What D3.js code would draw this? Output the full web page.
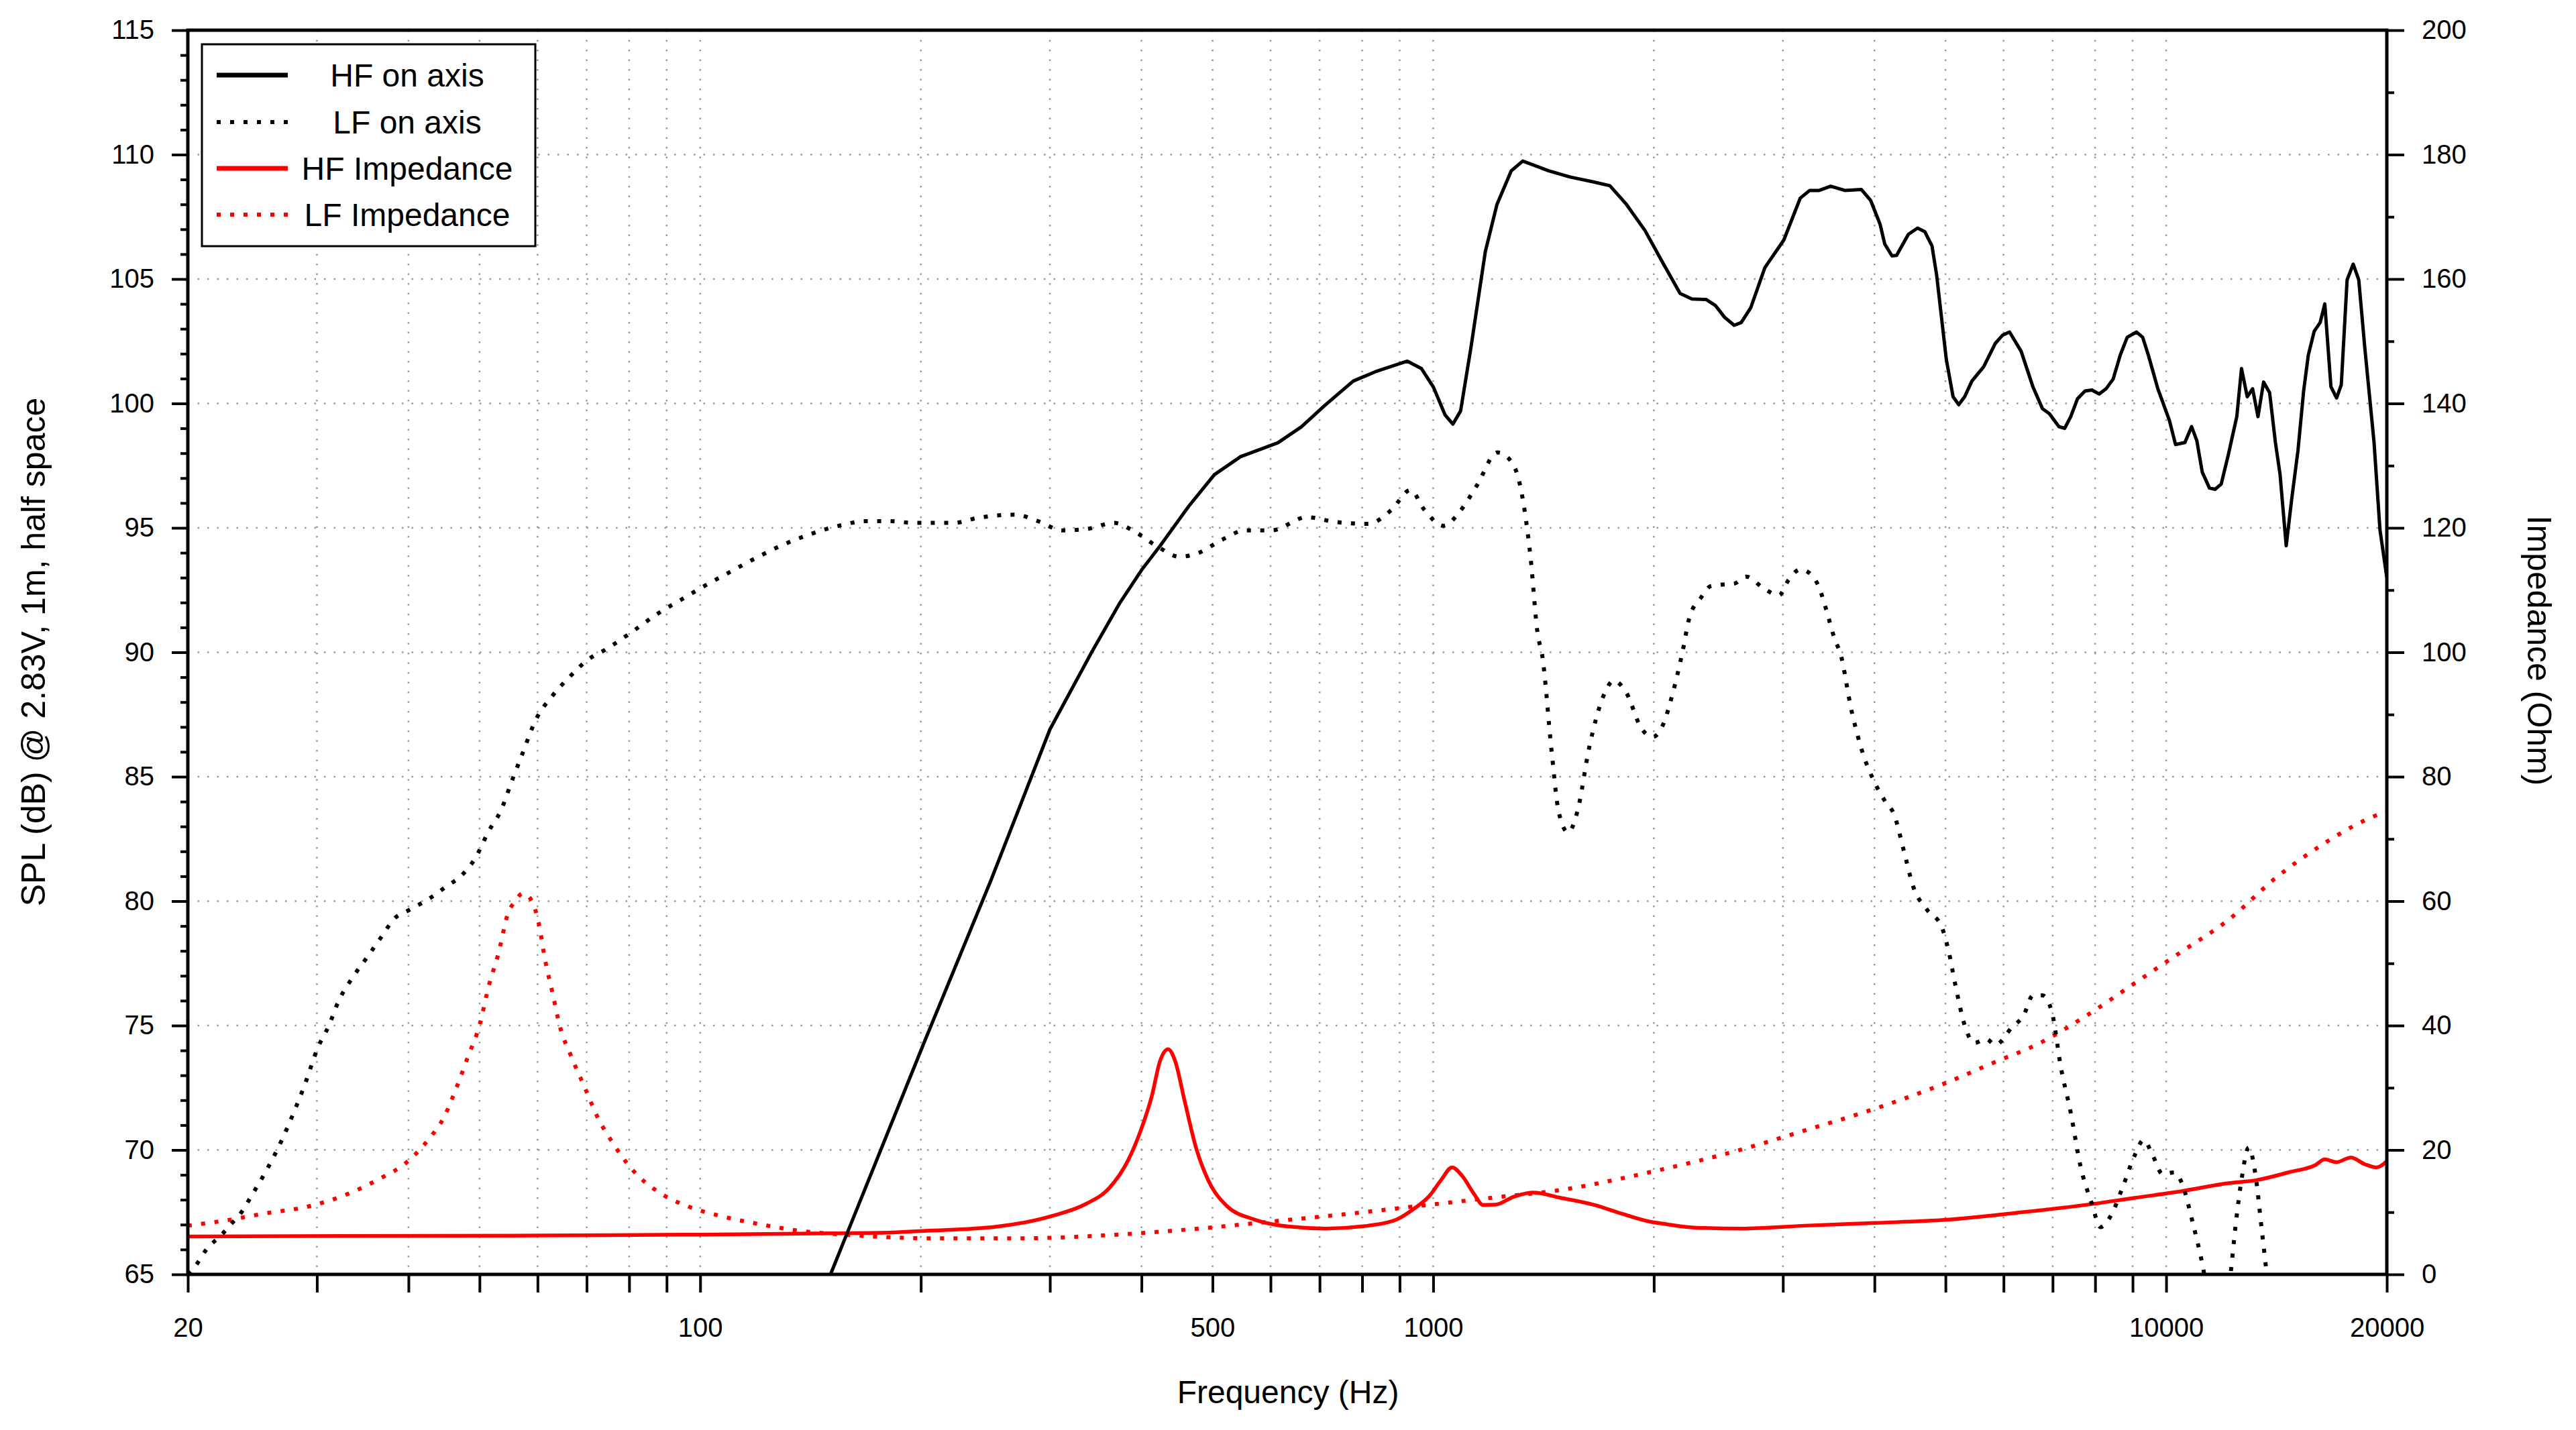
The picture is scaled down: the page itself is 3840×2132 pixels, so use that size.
<!DOCTYPE html>
<html>
<head>
<meta charset="utf-8">
<script src="https://d3js.org/d3.v7.min.js"></script>
<style>
  html, body { margin: 0; padding: 0; background: #fff; }
  svg { display: block; }
  text { font-family: "Liberation Sans", Arial, sans-serif; fill: #000; }
</style>
</head>
<body>
<svg id="chart" width="3840" height="2132"></svg>
<script>
// ---------------- DATA ----------------
const hfOnAxisFreq = [150.6,202.6,249,300,342,374,400,424,464,503,546,614,661,712,778,838,922,964,1001,1038,1064,1090,1126,1178,1222,1278,1325,1437,1537,1655,1742,1835,1945,2062,2172,2254,2356,2426,2498,2574,2632,2713,2835,3009,3168,3264,3362,3486,3644,3838,3952,4071,4132,4226,4288,4450,4580,4686,4792,4864,5012,5120,5212,5310,5432,5636,5848,5980,6114,6340,6580,6780,6932,7138,7270,7410,7570,7748,7920,8100,8280,8466,8656,8848,9112,9288,9456,9742,10104,10298,10606,10832,11010,11200,11456,11660,11888,12158,12484,12670,12900,13120,13344,13580,13840,14094,14300,14580,14840,15128,15400,15628,15920,16220,16460,16780,17080,17334,17654,17996,18312,18660,19214,19574,20000];
const hfOnAxisSpl = [65,74.4,80.8,86.9,90.0,92.0,93.3,94.27,95.87,97.14,97.86,98.42,99.06,99.93,100.9,101.3,101.7,101.4,100.65,99.54,99.17,99.7,102.25,106.1,108.0,109.35,109.74,109.35,109.1,108.9,108.75,108.0,106.95,105.6,104.42,104.2,104.18,103.94,103.46,103.14,103.25,103.86,105.46,106.57,108.25,108.56,108.56,108.73,108.56,108.6,108.16,107.2,106.4,105.93,105.95,106.8,107.05,106.9,106.33,105.13,101.78,100.27,99.95,100.27,100.9,101.47,102.42,102.74,102.87,102.1,100.67,99.79,99.58,99.07,99.0,99.47,100.19,100.5,100.54,100.38,100.59,100.98,101.94,102.66,102.87,102.66,101.94,100.59,99.31,98.35,98.43,99.07,98.51,97.24,96.6,96.55,96.76,97.95,99.47,101.4,100.27,100.59,99.47,100.86,100.43,98.43,97.16,94.28,96.2,98.1,100.5,101.94,102.9,103.25,104.0,100.67,100.22,100.75,104.97,105.6,104.97,102.26,98.43,94.92,93.0];

const lfOnAxisFreq = [20,20.6,21.2,22.24,22.85,23.47,24.59,25.7,26.86,27.89,28.94,30.04,31.16,32.1,33.56,35.08,36.67,38.33,40.06,42.8,45.1,47.14,49.3,51.5,53.45,55.46,57.1,59.7,62.9,66.2,70.2,74.5,80.2,87.7,94.4,101.7,109.4,117.9,128.8,140.8,156,168,181,196,222,239,269,289,312,336,367,389,419,451,479,515,554,602,672,734,815,877,931,973,1033,1087,1146,1224,1280,1318,1358,1388,1409,1451,1483,1528,1573,1633,1708,1763,1837,1920,1994,2062,2120,2188,2237,2320,2391,2481,2574,2672,2835,2964,3053,3168,3287,3362,3435,3538,3590,3724,3864,3981,4132,4256,4386,4516,4721,4935,5044,5158,5310,5474,5680,5848,6160,6390,6580,6780,6980,7190,7410,7630,7920,8130,8402,8717,9045,9316,9600,9886,10260,10490,10880,11200,11750,12240,12430,12670,12960,13245,13490,13720,14300];
const lfOnAxisSpl = [65.0,65.44,66.0,66.59,66.99,67.35,68.3,69.27,70.39,71.5,72.7,74.06,75.01,75.97,76.93,77.72,78.53,79.32,79.64,80.12,80.6,81.0,81.71,82.83,83.63,84.9,85.86,87.3,88.26,88.98,89.69,90.13,90.76,91.57,92.13,92.69,93.2,93.72,94.28,94.73,95.11,95.27,95.27,95.2,95.2,95.4,95.53,95.27,94.9,94.95,95.2,94.9,94.28,93.84,94.0,94.52,94.9,94.9,95.43,95.24,95.16,95.72,96.52,95.72,95.08,95.65,96.68,98.03,97.64,96.52,93.8,90.77,89.85,86.0,83.6,82.76,83.6,86.19,88.26,88.86,88.34,86.98,86.6,87.14,88.3,90.0,91.4,92.2,92.66,92.72,92.76,93.04,92.53,92.29,92.9,93.33,93.09,92.6,91.74,90.45,90.0,87.62,85.86,84.91,84.03,83.47,82.03,80.6,79.64,79.0,78.05,76.62,75.01,74.3,74.46,74.22,74.93,75.41,76.21,76.21,75.57,73.26,71.5,69.43,67.83,66.9,67.35,68.48,69.74,70.4,69.74,69.03,69.1,68.71,67.03,65.44,62.0,65.0,66.9,68.8,70.1,68.96,66.9,65.0,61.0];

const hfImpFreq = [20,60,100,150,183,203,253,302.5,335.8,361.6,383.6,400,413,424,434.8,444.6,458,475,493,523,571.6,634,714,815,890,945,988,1025,1061,1096,1137,1170,1215,1289,1368,1494,1655,1810,1977,2062,2287,2632,3215,4009,5012,6250,7798,9045,10490,12158,13290,14730,15980,16460,17080,17860,18660,19360,20000];
const hfImpOhm = [6.1,6.25,6.4,6.6,6.74,7.0,7.65,9.42,11.32,13.9,18.35,23.46,28.57,34.3,36.2,34.3,27.9,20.27,15.2,11.0,8.78,7.7,7.37,7.83,8.78,10.7,12.6,15.16,17.2,15.8,12.93,11.15,11.2,12.5,13.15,12.29,11.2,9.74,8.46,8.14,7.5,7.37,7.83,8.27,8.78,9.9,11.2,12.29,13.37,14.66,15.16,16.44,17.58,18.48,18.04,18.8,17.71,17.2,18.2];

const lfImpFreq = [20,22.5,25.3,29.4,33.06,36.67,39.48,42.5,44.77,46.45,48.2,50.0,51.5,53.05,54.65,55.88,57.3,58.84,60.17,61.5,62.9,64.3,66.74,69.7,72.37,76.2,80.9,87.7,95.8,106.3,119.7,136.7,158.4,183.6,203,272.8,367,493,614,767,959,1197,1494,1977,2612,3215,4009,5012,5805,6730,7798,9045,10490,12158,14094,16340,19450,20000];
const lfImpOhm = [7.83,8.66,9.74,11.0,12.93,15.48,17.71,21.56,25.38,29.86,34.95,40.05,46.47,51.54,57.93,59.97,61.24,60.16,56.65,50.27,45.18,40.05,34.95,29.86,25.38,20.92,16.76,13.25,11.02,9.42,8.14,7.0,6.36,5.93,5.8,5.8,6.36,7.5,8.6,9.74,11.02,12.29,13.58,16.44,19.95,23.14,26.65,30.8,34.0,37.2,41.65,46.76,51.86,56.97,63.68,69.11,73.89,74.4];

const freqTicks = [20,30,40,50,60,70,80,90,100,200,300,400,500,600,700,800,900,1000,2000,3000,4000,5000,6000,7000,8000,9000,10000,20000];
const freqLabelTicks = [20,100,500,1000,10000,20000];
const splMajorTicks = [65,70,75,80,85,90,95,100,105,110,115];
const impMajorTicks = [0,20,40,60,80,100,120,140,160,180,200];

const seriesNames = ["HF on axis","LF on axis","HF Impedance","LF Impedance"];

// ---------------- LAYOUT ----------------
const L = 280, R = 3558, T = 45, B = 1900;
const svg = d3.select("#chart");
svg.append("rect").attr("width",3840).attr("height",2132).attr("fill","#fff");

const x = d3.scaleLog().domain([20,20000]).range([L,R]);
const yL = d3.scaleLinear().domain([65,115]).range([B,T]);
const yR = d3.scaleLinear().domain([0,200]).range([B,T]);

const splMinorTicks = d3.range(65,116,1).filter(v => v % 5 !== 0);
const impMinorTicks = d3.range(10,200,20);

// grid
const grid = svg.append("g");
grid.selectAll("line.v").data(freqTicks.filter(f => f>20 && f<20000)).join("line")
  .attr("x1", d=>x(d)).attr("x2", d=>x(d)).attr("y1", T).attr("y2", B)
  .attr("stroke","#9a9a9a").attr("stroke-width",2.5).attr("stroke-dasharray","2.5,12");
grid.selectAll("line.h").data(splMajorTicks.filter(v => v>65 && v<115)).join("line")
  .attr("x1", L).attr("x2", R).attr("y1", d=>yL(d)).attr("y2", d=>yL(d))
  .attr("stroke","#9a9a9a").attr("stroke-width",2.5).attr("stroke-dasharray","2.5,12");

// curves
svg.append("clipPath").attr("id","plotclip").append("rect")
  .attr("x",L).attr("y",T).attr("width",R-L).attr("height",B-T);
const plot = svg.append("g").attr("clip-path","url(#plotclip)");

function zip(a,b){ return a.map((v,i)=>[v,b[i]]); }
const lineSpl = d3.line().x(d=>x(d[0])).y(d=>yL(d[1])).curve(d3.curveMonotoneX);
const lineSplLin = d3.line().x(d=>x(d[0])).y(d=>yL(d[1]));
const lineImp = d3.line().x(d=>x(d[0])).y(d=>yR(d[1])).curve(d3.curveMonotoneX);

const DOT = "6,14";
plot.append("path").attr("d", lineImp(zip(lfImpFreq,lfImpOhm)))
  .attr("fill","none").attr("stroke","#ff0000").attr("stroke-width",6).attr("stroke-dasharray",DOT);
plot.append("path").attr("d", lineImp(zip(hfImpFreq,hfImpOhm)))
  .attr("fill","none").attr("stroke","#ff0000").attr("stroke-width",5.5).attr("stroke-linejoin","round");
plot.append("path").attr("d", lineSpl(zip(lfOnAxisFreq,lfOnAxisSpl)))
  .attr("fill","none").attr("stroke","#000").attr("stroke-width",6).attr("stroke-dasharray",DOT);
plot.append("path").attr("d", lineSplLin(zip(hfOnAxisFreq,hfOnAxisSpl)))
  .attr("fill","none").attr("stroke","#000").attr("stroke-width",5).attr("stroke-linejoin","round");

// axes
const TICKW = 4;
function styleAxis(g){
  g.select(".domain").remove();
  g.selectAll(".tick line").attr("stroke","#000").attr("stroke-width",TICKW);
  g.selectAll(".tick text").attr("font-size",40).attr("font-family",'"Liberation Sans", Arial, sans-serif');
}
const xAxis = d3.axisBottom(x).tickValues(freqTicks).tickSize(27).tickPadding(38)
  .tickFormat(d => freqLabelTicks.includes(d) ? String(d) : "");
svg.append("g").attr("transform",`translate(0,${B})`).call(xAxis).call(styleAxis);

svg.append("g").attr("transform",`translate(${L},0)`)
  .call(d3.axisLeft(yL).tickValues(splMinorTicks).tickSize(11).tickFormat("")).call(styleAxis);
svg.append("g").attr("transform",`translate(${L},0)`)
  .call(d3.axisLeft(yL).tickValues(splMajorTicks).tickSize(24).tickPadding(26).tickFormat(d3.format("d"))).call(styleAxis);

svg.append("g").attr("transform",`translate(${R},0)`)
  .call(d3.axisRight(yR).tickValues(impMinorTicks).tickSize(11).tickFormat("")).call(styleAxis);
svg.append("g").attr("transform",`translate(${R},0)`)
  .call(d3.axisRight(yR).tickValues(impMajorTicks).tickSize(26).tickPadding(26).tickFormat(d3.format("d"))).call(styleAxis);

// frame
svg.append("rect").attr("x",L).attr("y",T).attr("width",R-L).attr("height",B-T)
  .attr("fill","none").attr("stroke","#000").attr("stroke-width",5);

// titles
svg.append("text").attr("x",1920).attr("y",2092).attr("text-anchor","middle")
  .attr("font-size",48).text("Frequency (Hz)");
svg.append("text").attr("transform","translate(67,972) rotate(-90)").attr("text-anchor","middle")
  .attr("font-size",50).text("SPL (dB) @ 2.83V, 1m, half space");
svg.append("text").attr("transform","translate(3768,970) rotate(90)").attr("text-anchor","middle")
  .attr("font-size",50).text("Impedance (Ohm)");

// legend
const lg = svg.append("g");
lg.append("rect").attr("x",301).attr("y",66).attr("width",497).attr("height",301)
  .attr("fill","#fff").attr("stroke","#000").attr("stroke-width",3);
const legendStyles = [
  {color:"#000", dash:null, w:7},
  {color:"#000", dash:DOT, w:6},
  {color:"#ff0000", dash:null, w:7},
  {color:"#ff0000", dash:DOT, w:6}
];
const rowY = [112,182,251,320];
seriesNames.forEach((name,i)=>{
  const s = legendStyles[i];
  const ln = lg.append("line").attr("x1",323).attr("x2",429).attr("y1",rowY[i]).attr("y2",rowY[i])
    .attr("stroke",s.color).attr("stroke-width",s.w);
  if (s.dash) ln.attr("stroke-dasharray",s.dash);
  lg.append("text").attr("x",607).attr("y",rowY[i]+17).attr("text-anchor","middle")
    .attr("font-size",48).text(name);
});
</script>
</body>
</html>
